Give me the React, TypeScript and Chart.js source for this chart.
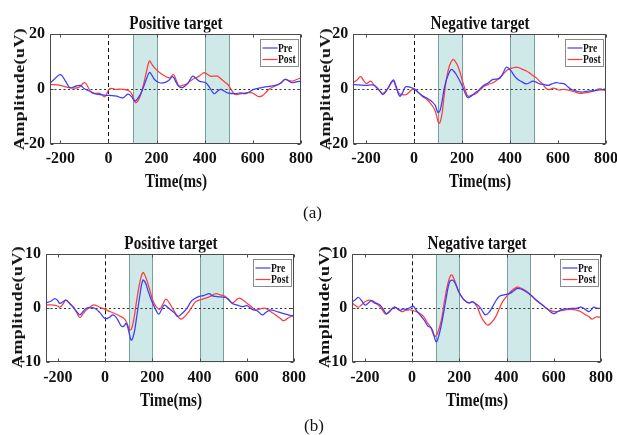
import React, { useEffect, useRef } from 'react';
import { Chart, registerables } from 'chart.js';

Chart.register(...registerables);

// ---------- data ----------
const xTicks = [-200, 0, 200, 400, 600, 800];
const yTicksA = [-20, 0, 20];
const yTicksB = [-10, 0, 10];
const windows = [[100, 200], [400, 500]];
const seriesNames = ['Pre', 'Post'];
const panelTitles = ['Positive target', 'Negative target'];
const xAxisTitle = 'Time(ms)';
const yAxisTitle = 'Amplitude(uV)';
const captions = ['(a)', '(b)'];

// (a) Positive target
const aPosPreT = [-245, -225, -200, -180, -160, -140, -118, -100, -75, -50, -25, -8, 15, 33, 60, 81, 95, 109, 122, 136, 147, 157, 170, 180, 191, 212, 232, 250, 267, 283, 294, 310, 330, 349, 363, 377, 404, 420, 439, 452, 466, 480, 494, 528, 550, 569, 604, 630, 652, 693, 715, 734, 750, 762, 780, 800];
const aPosPreV = [1.8, 3.5, 5.2, 3.0, 0.4, 0.8, 1.2, 0.0, -1.0, -2.0, -2.2, -2.4, -2.5, -2.7, -3.3, -2.0, -2.8, -4.5, -3.5, -1.5, 1.0, 3.4, 5.9, 5.0, 3.4, 2.2, 2.2, 3.0, 4.4, 2.0, 0.7, 0.5, 2.0, 4.6, 3.8, 2.8, 2.2, 0.5, -1.8, -1.0, -0.2, -0.8, -1.5, -1.8, -1.5, -1.8, -0.2, 0.3, 0.7, 1.2, 2.0, 3.4, 2.8, 2.2, 2.5, 2.8];
const aPosPostT = [-245, -200, -160, -125, -98, -70, -36, -15, 5, 33, 60, 88, 100, 113, 125, 136, 147, 157, 170, 180, 191, 212, 239, 255, 270, 282, 294, 310, 322, 349, 377, 397, 412, 425, 440, 453, 473, 490, 501, 515, 528, 550, 570, 597, 610, 624, 640, 652, 670, 693, 715, 734, 750, 765, 780, 800];
const aPosPostV = [1.6, 1.2, 0.4, 0.4, 2.2, -1.5, -1.7, -2.9, 0.0, -0.2, -0.2, -0.9, -2.5, -5.1, -4.0, -1.5, 2.0, 5.9, 10.1, 9.0, 7.7, 5.9, 4.4, 4.0, 5.2, 3.0, 1.0, 1.3, 1.6, 3.4, 4.6, 5.9, 5.2, 4.6, 4.6, 4.6, 3.2, 2.0, 1.0, -1.0, -2.1, -1.8, -1.5, -1.5, -2.2, -2.9, -2.5, -1.5, 0.0, 1.0, 2.0, 3.4, 3.0, 2.8, 3.3, 4.0];

// (a) Negative target
const aNegPreT = [-255, -230, -198, -180, -164, -145, -129, -110, -87, -75, -60, -48, -35, -15, 0, 20, 37, 55, 72, 88, 100, 110, 128, 142, 155, 165, 176, 190, 204, 215, 225, 238, 252, 270, 287, 310, 329, 356, 370, 384, 395, 405, 420, 433, 450, 467, 481, 495, 509, 523, 540, 558, 575, 592, 610, 627, 640, 655, 675, 696, 715, 731, 750, 766, 785, 800];
const aNegPreV = [1.6, 1.4, 1.2, 1.4, 1.2, -0.5, -2.1, 0.0, 3.2, 1.0, -2.7, -1.5, 0.7, 0.5, 0.0, -1.5, -2.7, -3.5, -4.5, -6.0, -8.7, -7.5, 1.0, 5.0, 7.0, 6.5, 5.2, 3.0, 0.4, -2.0, -3.3, -2.7, -1.7, -0.5, 1.0, 2.2, 3.4, 3.8, 5.5, 7.9, 7.4, 6.4, 4.5, 3.4, 2.5, 1.8, 2.2, 2.8, 2.4, 1.8, 1.6, 1.2, 1.8, 2.2, 2.0, 1.8, 0.8, -0.2, -0.8, -1.2, -1.0, -0.8, -0.7, -0.5, -0.3, 0.0];
const aNegPostT = [-255, -240, -222, -210, -198, -180, -168, -157, -140, -129, -110, -87, -75, -62, -45, -32, -15, 0, 20, 37, 55, 72, 88, 104, 115, 125, 135, 148, 162, 172, 183, 195, 204, 215, 225, 242, 259, 276, 294, 310, 329, 350, 370, 391, 408, 426, 440, 454, 468, 481, 495, 509, 523, 537, 550, 565, 580, 592, 606, 620, 638, 655, 672, 689, 710, 731, 750, 773, 790, 800];
const aNegPostV = [2.2, 3.0, 4.4, 3.0, 1.9, 2.8, 1.5, 0.4, -1.0, -1.7, 0.0, 2.8, 0.5, -1.7, -2.2, -2.1, -0.8, 0.0, -1.5, -2.9, -4.0, -5.7, -8.0, -12.6, -10.0, -3.0, 3.4, 8.5, 10.7, 10.0, 8.2, 5.0, 2.2, -0.8, -2.7, -2.3, -1.7, -0.3, 1.0, 1.6, 2.2, 3.5, 5.2, 7.0, 7.5, 7.9, 7.6, 7.0, 6.5, 5.8, 4.8, 4.0, 2.8, 1.6, 0.2, -0.3, 0.2, 0.0, -0.5, -0.2, -0.4, -0.8, -1.2, -1.7, -1.5, -1.2, -0.8, 0.0, -0.5, -0.8];

// (b) Positive target
const bPosPreT = [-250, -230, -212, -200, -191, -178, -166, -150, -135, -120, -107, -93, -79, -60, -44, -22, 0, 18, 34, 52, 69, 80, 90, 100, 111, 122, 132, 146, 160, 170, 181, 192, 202, 215, 227, 240, 251, 265, 279, 293, 307, 320, 335, 350, 363, 380, 399, 420, 441, 455, 469, 490, 511, 525, 539, 560, 581, 600, 623, 645, 665, 683, 700, 720, 749, 775, 800];
const bPosPreV = [1.0, 1.3, 1.8, 1.4, 0.9, 1.2, 1.5, 0.9, 0.2, -0.6, -1.2, -0.6, 0.0, 0.1, 0.0, -0.8, -1.9, -1.7, -1.2, -2.0, -3.3, -3.3, -2.8, -4.2, -5.9, -4.8, -2.2, 2.0, 5.2, 4.8, 3.4, 2.0, 0.9, -0.3, -1.1, -0.2, 0.6, 0.2, -0.3, -0.8, -1.5, -1.2, -0.6, 0.2, 1.2, 1.8, 2.2, 2.4, 2.7, 2.3, 2.2, 2.1, 2.0, 1.5, 0.9, 0.6, 0.3, 0.5, -0.2, -0.5, -1.2, -0.7, -0.3, -0.5, -0.9, -1.2, -1.5];
const bPosPostT = [-250, -219, -200, -191, -178, -166, -150, -135, -120, -107, -93, -79, -65, -51, -36, -22, 0, 20, 48, 65, 83, 95, 104, 112, 122, 132, 146, 160, 170, 181, 192, 202, 215, 230, 245, 258, 272, 286, 303, 321, 338, 355, 370, 384, 405, 427, 450, 469, 487, 504, 520, 539, 552, 567, 585, 602, 620, 637, 657, 679, 700, 721, 740, 756, 775, 800];
const bPosPostV = [0.6, 0.6, 0.4, 0.2, 0.8, 1.5, 0.9, 0.3, -0.8, -1.7, -1.0, -0.3, 0.2, 0.6, 0.5, 0.2, -0.2, -0.6, -1.1, -1.5, -2.0, -3.0, -4.0, -3.8, -2.0, 0.9, 4.5, 6.6, 6.0, 4.6, 3.0, 1.5, 0.4, -0.2, 0.8, 1.7, 1.0, 0.0, -1.2, -2.0, -1.5, -0.6, 0.4, 1.2, 1.6, 1.9, 2.3, 2.7, 2.5, 2.3, 1.8, 1.0, 1.4, 1.9, 1.5, 0.9, 0.3, -0.3, -0.1, 0.0, -0.6, -1.2, -1.8, -2.3, -1.8, -1.2];

// (b) Negative target
const bNegPreT = [-253, -240, -227, -213, -199, -185, -171, -155, -136, -122, -108, -92, -76, -64, -52, -38, -24, -10, 4, 20, 39, 53, 67, 80, 90, 102, 115, 131, 145, 159, 173, 187, 201, 212, 222, 240, 257, 271, 285, 298, 310, 325, 341, 355, 369, 390, 411, 430, 446, 465, 481, 495, 509, 530, 552, 575, 590, 601, 618, 636, 657, 678, 695, 713, 730, 748, 760, 769, 785, 800];
const bNegPreV = [1.2, 1.6, 2.0, 1.4, 0.6, 1.0, 1.4, 1.0, 0.6, -0.2, -1.0, -0.4, 0.2, 0.0, -0.4, -0.1, -0.2, 0.1, 0.4, -0.5, -1.5, -2.3, -3.3, -3.6, -4.5, -6.2, -4.8, -1.5, 2.0, 4.9, 5.2, 4.2, 2.8, 2.0, 1.5, 1.0, 1.2, 0.8, 0.3, -0.5, -1.2, -0.8, 0.3, 1.4, 2.2, 2.5, 2.7, 3.2, 3.7, 3.5, 3.1, 2.7, 2.2, 1.4, 0.6, -0.2, -0.8, -1.0, -0.6, -0.2, -0.1, 0.0, 0.0, 0.2, -0.1, -0.6, -0.2, 0.2, 0.0, 0.0];
const bNegPostT = [-253, -240, -227, -210, -196, -178, -160, -143, -126, -111, -95, -76, -60, -45, -28, -10, 10, 32, 50, 67, 80, 95, 108, 124, 138, 152, 166, 180, 194, 208, 222, 240, 257, 275, 292, 306, 320, 337, 355, 370, 383, 400, 418, 432, 446, 463, 480, 495, 509, 530, 552, 575, 601, 625, 650, 671, 692, 713, 734, 748, 762, 780, 800];
const bNegPostV = [1.0, 0.5, 0.2, 0.8, 1.3, 1.5, 1.0, 0.6, -0.3, -1.1, -0.6, 0.2, -0.1, -0.6, -0.4, -0.3, -0.5, -0.9, -1.6, -2.8, -3.6, -5.2, -4.6, -2.2, 1.5, 4.6, 6.2, 5.2, 3.4, 2.3, 1.5, 1.0, 1.2, 0.3, -1.5, -2.5, -3.1, -2.6, -1.5, 0.0, 1.2, 2.2, 3.1, 3.6, 3.9, 3.7, 3.3, 2.8, 2.2, 1.3, 0.6, -0.2, -0.6, -0.5, -0.3, -0.2, -0.3, -0.6, -1.2, -1.5, -2.0, -1.6, -1.7];

// ---------- styling ----------
const FONT = '"Liberation Serif", "Times New Roman", serif';
const PRE_COLOR = 'rgb(60,60,255)';
const POST_COLOR = 'rgb(255,60,60)';
const SHADE_FILL = 'rgb(207,232,232)';
const SHADE_EDGE = 'rgb(120,158,158)';
const FRAME = '#4a4a4a';

type Panel = {
  id: string;
  title: string;
  L: number; R: number; T: number; B: number;
  xMin: number;
  yTicks: number[];
  preT: number[]; preV: number[]; postT: number[]; postV: number[];
  titleX: number; titleY: number;
  yTitleX: number; yTitleY: number;
  xTitleX: number; xTitleY: number;
};

const panels: Panel[] = [
  { id: 'a1', title: panelTitles[0], L: 50, R: 302.7, T: 34, B: 143.5, xMin: -243, yTicks: yTicksA,
    preT: aPosPreT, preV: aPosPreV, postT: aPosPostT, postV: aPosPostV,
    titleX: 176, titleY: 21.5, yTitleX: 19, yTitleY: 89, xTitleX: 176, xTitleY: 180 },
  { id: 'a2', title: panelTitles[1], L: 353.3, R: 607.3, T: 34, B: 143.5, xMin: -253, yTicks: yTicksA,
    preT: aNegPreT, preV: aNegPreV, postT: aNegPostT, postV: aNegPostV,
    titleX: 480, titleY: 21.5, yTitleX: 325, yTitleY: 89, xTitleX: 480, xTitleY: 180 },
  { id: 'b1', title: panelTitles[0], L: 46, R: 295.3, T: 254.3, B: 362.3, xMin: -250, yTicks: yTicksB,
    preT: bPosPreT, preV: bPosPreV, postT: bPosPostT, postV: bPosPostV,
    titleX: 171, titleY: 241.5, yTitleX: 16.5, yTitleY: 306.5, xTitleX: 171, xTitleY: 399 },
  { id: 'b2', title: panelTitles[1], L: 352.3, R: 602.3, T: 254.3, B: 362.3, xMin: -253, yTicks: yTicksB,
    preT: bNegPreT, preV: bNegPreV, postT: bNegPostT, postV: bNegPostV,
    titleX: 477, titleY: 241.5, yTitleX: 323.5, yTitleY: 306.5, xTitleX: 477, xTitleY: 399 },
];

function makePlugin(p: Panel) {
  return {
    id: 'erpDecor_' + p.id,
    beforeDatasetsDraw(chart: any) {
      const { ctx, chartArea: a, scales } = chart;
      const x = scales.x, y = scales.y;
      ctx.save();
      for (const [s, e] of windows) {
        const x0 = Math.round(x.getPixelForValue(s)) + 0.5;
        const x1 = Math.round(x.getPixelForValue(e)) + 0.5;
        ctx.fillStyle = SHADE_FILL;
        ctx.fillRect(x0, a.top, x1 - x0, a.bottom - a.top);
        ctx.strokeStyle = SHADE_EDGE;
        ctx.lineWidth = 1;
        ctx.beginPath();
        ctx.moveTo(x0, a.top); ctx.lineTo(x0, a.bottom);
        ctx.moveTo(x1, a.top); ctx.lineTo(x1, a.bottom);
        ctx.stroke();
      }
      const y0 = Math.round(y.getPixelForValue(0)) + 0.5;
      ctx.strokeStyle = '#333';
      ctx.lineWidth = 1;
      ctx.setLineDash([2, 2.5]);
      ctx.beginPath(); ctx.moveTo(a.left, y0); ctx.lineTo(a.right, y0); ctx.stroke();
      const xz = Math.round(x.getPixelForValue(0)) + 0.5;
      ctx.strokeStyle = '#111';
      ctx.setLineDash([4, 3]);
      ctx.beginPath(); ctx.moveTo(xz, a.top); ctx.lineTo(xz, a.bottom); ctx.stroke();
      ctx.restore();
    },
    afterDatasetsDraw(chart: any) {
      const { ctx, chartArea: a, scales } = chart;
      const x = scales.x, y = scales.y;
      ctx.save();
      ctx.strokeStyle = FRAME;
      ctx.lineWidth = 1;
      const l = Math.round(a.left) + 0.5, r = Math.round(a.right) - 0.5;
      const t = Math.round(a.top) + 0.5, b = Math.round(a.bottom) - 0.5;
      ctx.strokeRect(l, t, r - l, b - t);
      ctx.beginPath();
      for (const v of xTicks) {
        const px = Math.round(x.getPixelForValue(v)) + 0.5;
        ctx.moveTo(px, b); ctx.lineTo(px, b - 3);
        ctx.moveTo(px, t); ctx.lineTo(px, t + 3);
      }
      for (const v of p.yTicks) {
        const py = Math.round(y.getPixelForValue(v)) + 0.5;
        ctx.moveTo(l, py); ctx.lineTo(l + 3, py);
        ctx.moveTo(r, py); ctx.lineTo(r - 3, py);
      }
      ctx.stroke();

      // legend
      const bw = 38, bh = 27;
      const bx = Math.round(a.right - 3 - bw) + 0.5;
      const by = Math.round(a.top + 5) + 0.5;
      ctx.fillStyle = '#fff';
      ctx.fillRect(bx, by, bw, bh);
      ctx.strokeStyle = '#8a8a8a';
      ctx.strokeRect(bx, by, bw, bh);
      const colors = [PRE_COLOR, POST_COLOR];
      seriesNames.forEach((name, i) => {
        const ly = by + 8.5 + i * 11.5;
        ctx.strokeStyle = colors[i];
        ctx.lineWidth = 1.2;
        ctx.beginPath(); ctx.moveTo(bx + 2, ly); ctx.lineTo(bx + 17, ly); ctx.stroke();
        ctx.save();
        ctx.translate(bx + 17.5, ly + 0.5);
        ctx.scale(0.8, 1);
        ctx.fillStyle = '#111';
        ctx.font = 'bold 12px ' + FONT;
        ctx.textBaseline = 'middle';
        ctx.textAlign = 'left';
        ctx.fillText(name, 0, 0);
        ctx.restore();
      });
      ctx.restore();
    },
  };
}

function ErpChart({ p }: { p: Panel }) {
  const ref = useRef<HTMLCanvasElement | null>(null);
  const cl = Math.floor(p.L - 48);
  const ct = Math.floor(p.T - 30);
  const cr = Math.ceil(p.R + 16);
  const cb = Math.ceil(p.B + 40);
  const w = cr - cl;
  const h = cb - ct;
  useEffect(() => {
    const canvas = ref.current;
    if (!canvas) return;
    const yMax = p.yTicks[p.yTicks.length - 1];
    const yMin = p.yTicks[0];
    const chart = new Chart(canvas, {
      type: 'line',
      data: {
        datasets: [
          { label: seriesNames[0], data: p.preT.map((t, i) => ({ x: t, y: p.preV[i] })),
            borderColor: PRE_COLOR, borderWidth: 1.25, pointRadius: 0, tension: 0.4, fill: false },
          { label: seriesNames[1], data: p.postT.map((t, i) => ({ x: t, y: p.postV[i] })),
            borderColor: POST_COLOR, borderWidth: 1.25, pointRadius: 0, tension: 0.4, fill: false },
        ],
      },
      options: {
        animation: false,
        responsive: false,
        devicePixelRatio: 1,
        events: [],
        layout: { padding: { left: 0, top: p.T - ct, right: cr - p.R, bottom: 0 } },
        plugins: { legend: { display: false }, tooltip: { enabled: false }, title: { display: false } },
        scales: {
          x: {
            type: 'linear', min: p.xMin, max: 800,
            grid: { display: false, drawTicks: false },
            border: { display: false },
            ticks: { font: { family: FONT, size: 16, weight: 'bold' }, color: '#111', padding: 6, maxRotation: 0, autoSkip: false },
            afterBuildTicks: (s: any) => { s.ticks = xTicks.map((v) => ({ value: v })); },
            afterFit: (s: any) => { s.height = cb - p.B; },
          },
          y: {
            type: 'linear', min: yMin, max: yMax,
            grid: { display: false, drawTicks: false },
            border: { display: false },
            ticks: { font: { family: FONT, size: 16, weight: 'bold' }, color: '#111', padding: 5, autoSkip: false },
            afterBuildTicks: (s: any) => { s.ticks = p.yTicks.map((v) => ({ value: v })); },
            afterFit: (s: any) => { s.width = p.L - cl; },
          },
        },
      } as any,
      plugins: [makePlugin(p)],
    });
    return () => chart.destroy();
  }, []);
  return (
    <canvas
      ref={ref}
      width={w}
      height={h}
      style={{ position: 'absolute', left: cl, top: ct, width: w, height: h }}
    />
  );
}

const textBase: React.CSSProperties = {
  position: 'absolute',
  fontFamily: FONT,
  whiteSpace: 'nowrap',
  lineHeight: 1,
  color: '#111',
};

export default function App() {
  return (
    <div style={{ position: 'absolute', left: 0, top: 0, width: 617, height: 435, background: '#fff', overflow: 'hidden' }}>
      {panels.map((p) => (
        <React.Fragment key={p.id}>
          <ErpChart p={p} />
          <div style={{ ...textBase, left: p.titleX, top: p.titleY, fontSize: 19, fontWeight: 'bold', transform: 'translate(-50%, -50%) scaleX(0.8)' }}>{p.title}</div>
          <div style={{ ...textBase, left: p.xTitleX, top: p.xTitleY, fontSize: 19, fontWeight: 'bold', transform: 'translate(-50%, -50%) scaleX(0.8)' }}>{xAxisTitle}</div>
          <div style={{ ...textBase, left: p.yTitleX, top: p.yTitleY, fontSize: 18, fontWeight: 'bold', letterSpacing: '0.4px', transform: 'translate(-50%, -50%) rotate(-90deg) scaleY(0.8)' }}>{yAxisTitle}</div>
        </React.Fragment>
      ))}
      <div style={{ ...textBase, left: 312.5, top: 212, fontSize: 17, transform: 'translate(-50%, -50%)' }}>{captions[0]}</div>
      <div style={{ ...textBase, left: 314, top: 425, fontSize: 17, transform: 'translate(-50%, -50%)' }}>{captions[1]}</div>
    </div>
  );
}
